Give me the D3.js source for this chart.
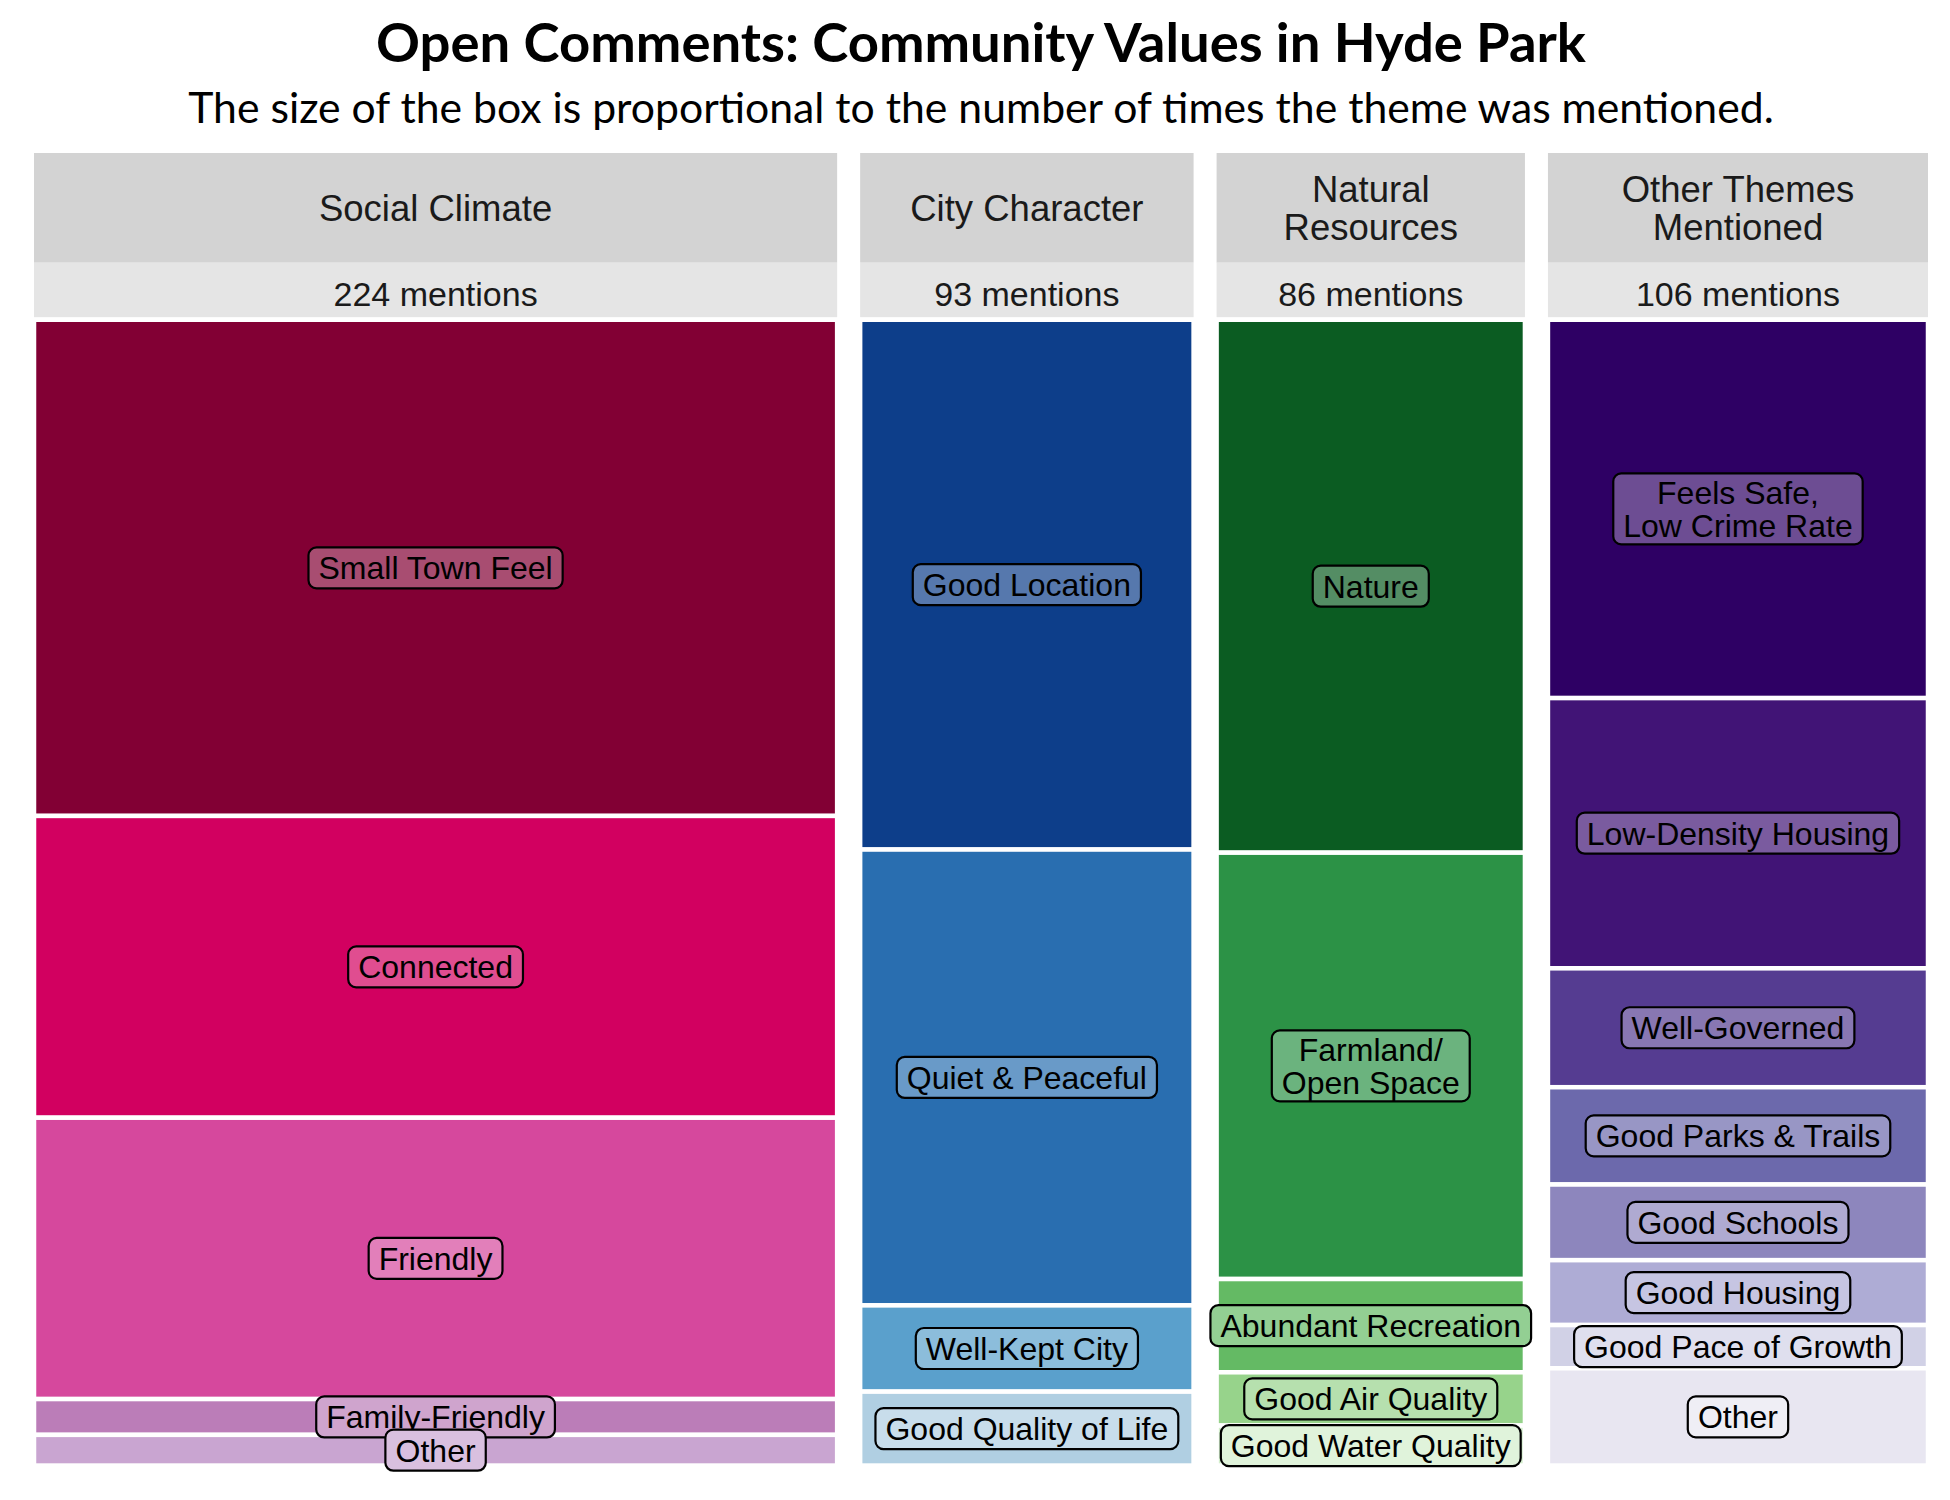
<!DOCTYPE html>
<html>
<head>
<meta charset="utf-8">
<script src="https://cdn.jsdelivr.net/npm/d3@7"></script>
<style>
  html, body { margin: 0; padding: 0; background: #ffffff; }
</style>
</head>
<body>
<svg id="chart" width="1950" height="1500"></svg>
<script>
// ---------------- DATA ----------------
const themeNames = ["Social Climate", "City Character", "Natural\nResources", "Other Themes\nMentioned"];

const socialLabels = ["Small Town Feel", "Connected", "Friendly", "Family-Friendly", "Other"];
const socialCounts = [97, 59, 55, 7, 6];
const socialColors = ["#820034", "#D20060", "#D6489D", "#BB7DB8", "#C9A5D1"];

const cityLabels = ["Good Location", "Quiet & Peaceful", "Well-Kept City", "Good Quality of Life"];
const cityCounts = [43, 37, 7, 6];
const cityColors = ["#0D3E8A", "#296EB0", "#5AA0CC", "#B0CFE2"];

const naturalLabels = ["Nature", "Farmland/\nOpen Space", "Abundant Recreation", "Good Air Quality", "Good Water Quality"];
const naturalCounts = [40, 32, 7, 4, 3];
const naturalColors = ["#0B5C22", "#2C9246", "#64BA64", "#97D38B", "#D3EECC"];

const otherLabels = ["Feels Safe,\nLow Crime Rate", "Low-Density Housing", "Well-Governed", "Good Parks & Trails",
                     "Good Schools", "Good Housing", "Good Pace of Growth", "Other"];
const otherCounts = [35, 25, 11, 9, 7, 6, 4, 9];
const otherColors = ["#2E0064", "#411476", "#553C91", "#6C69AC", "#8D86BD", "#AEACD5", "#D1D1E6", "#E8E6F1"];

const titleText = "Open Comments: Community Values in Hyde Park";
const subtitleText = "The size of the box is proportional to the number of times the theme was mentioned.";

// ---------------- LAYOUT ----------------
const groups = [
  {name: themeNames[0], labels: socialLabels, counts: socialCounts, colors: socialColors},
  {name: themeNames[1], labels: cityLabels, counts: cityCounts, colors: cityColors},
  {name: themeNames[2], labels: naturalLabels, counts: naturalCounts, colors: naturalColors},
  {name: themeNames[3], labels: otherLabels, counts: otherCounts, colors: otherColors}
];
groups.forEach(g => g.total = d3.sum(g.counts));

const plotLeft = 34, plotRight = 1928, colGap = 23;
const strip1Top = 153, strip1Bottom = 262.7, strip2Bottom = 317.3;
const panelTop = 319.75, panelBottom = 1465.55;
const grand = d3.sum(groups, g => g.total);

const widthScale = d3.scaleLinear().domain([0, grand])
  .range([0, plotRight - plotLeft - colGap * (groups.length - 1)]);

let cum = 0;
groups.forEach((g, i) => {
  g.x0 = plotLeft + widthScale(cum) + i * colGap;
  g.x1 = g.x0 + widthScale(g.total);
  cum += g.total;
  g.y = d3.scaleLinear().domain([0, g.total]).range([panelTop, panelBottom]);
  let c = 0;
  g.items = g.labels.map((lab, j) => {
    const it = {label: lab, count: g.counts[j], color: g.colors[j], start: c, end: c + g.counts[j]};
    c += g.counts[j];
    return it;
  });
});

const svg = d3.select("#chart");
const FONT = "'Liberation Sans', Arial, Helvetica, sans-serif";
const TFONT = "Lato, 'Open Sans', sans-serif";

// ---------------- TITLE ----------------
const cx = (plotLeft + plotRight) / 2;
function fitText(sel, target) {
  const base = parseFloat(sel.attr("font-size"));
  const len = sel.node().getComputedTextLength();
  sel.attr("font-size", base * target / len);
}
const title = svg.append("text")
  .attr("x", cx).attr("y", 62)
  .attr("text-anchor", "middle")
  .attr("font-family", TFONT).attr("font-weight", 700)
  .attr("font-size", 50).attr("fill", "#000")
  .text(titleText);
fitText(title, 1210);

const subtitle = svg.append("text")
  .attr("x", cx).attr("y", 123)
  .attr("text-anchor", "middle")
  .attr("font-family", TFONT).attr("font-weight", 400)
  .attr("font-size", 40).attr("fill", "#000")
  .text(subtitleText);
fitText(subtitle, 1586);

// ---------------- STRIPS ----------------
const col = svg.selectAll("g.col").data(groups).join("g").attr("class", "col");

col.append("rect")
  .attr("x", d => d.x0).attr("y", strip1Top)
  .attr("width", d => d.x1 - d.x0).attr("height", strip1Bottom - strip1Top)
  .attr("fill", "#D3D3D3");
col.append("rect")
  .attr("x", d => d.x0).attr("y", strip1Bottom)
  .attr("width", d => d.x1 - d.x0).attr("height", strip2Bottom - strip1Bottom)
  .attr("fill", "#E5E5E5");

const stripFont = 36.5, stripLine = 38.3;
col.append("text")
  .attr("text-anchor", "middle")
  .attr("font-family", FONT).attr("font-size", stripFont).attr("fill", "#1A1A1A")
  .each(function(d) {
    const lines = d.name.split("\n");
    const midY = (strip1Top + strip1Bottom) / 2;
    const firstBase = midY + 0.36 * stripFont - (lines.length - 1) * stripLine / 2;
    d3.select(this).selectAll("tspan").data(lines).join("tspan")
      .attr("x", (d.x0 + d.x1) / 2)
      .attr("y", (l, k) => firstBase + k * stripLine)
      .text(l => l);
  });

const mentFont = 34;
col.append("text")
  .attr("x", d => (d.x0 + d.x1) / 2)
  .attr("y", (strip1Bottom + strip2Bottom) / 2 + 0.36 * mentFont + 3.5)
  .attr("text-anchor", "middle")
  .attr("font-family", FONT).attr("font-size", mentFont).attr("fill", "#1A1A1A")
  .text(d => d.total + " mentions");

// ---------------- TILES ----------------
col.selectAll("rect.tile").data(d => d.items.map(it => ({...it, g: d}))).join("rect")
  .attr("class", "tile")
  .attr("x", d => d.g.x0).attr("y", d => d.g.y(d.start))
  .attr("width", d => d.g.x1 - d.g.x0)
  .attr("height", d => d.g.y(d.end) - d.g.y(d.start))
  .attr("fill", d => d.color)
  .attr("stroke", "#ffffff").attr("stroke-width", 4.5);

// ---------------- LABELS ----------------
const labFont = 32, labLine = 33, padX = 10;
function lighten(c) { return d3.interpolateRgb(c, "#ffffff")(0.3); }

const labelLayer = svg.append("g");
groups.forEach(g => {
  g.items.forEach(it => {
    const lx = (g.x0 + g.x1) / 2;
    const ly = (g.y(it.start) + g.y(it.end)) / 2;
    const lines = it.label.split("\n");
    const lg = labelLayer.append("g");
    const box = lg.append("rect");
    const txt = lg.append("text")
      .attr("text-anchor", "middle")
      .attr("font-family", FONT).attr("font-size", labFont).attr("fill", "#000");
    const firstBase = ly + 0.36 * labFont - (lines.length - 1) * labLine / 2;
    txt.selectAll("tspan").data(lines).join("tspan")
      .attr("x", lx).attr("y", (l, k) => firstBase + k * labLine).text(l => l);
    const tw = txt.node().getBBox().width;
    const bh = 41 + (lines.length - 1) * 30;
    box.attr("x", lx - tw / 2 - padX).attr("y", ly - bh / 2)
      .attr("width", tw + 2 * padX).attr("height", bh)
      .attr("rx", 8).attr("ry", 8)
      .attr("fill", lighten(it.color))
      .attr("stroke", "#000").attr("stroke-width", 2.2);
  });
});
</script>
</body>
</html>
